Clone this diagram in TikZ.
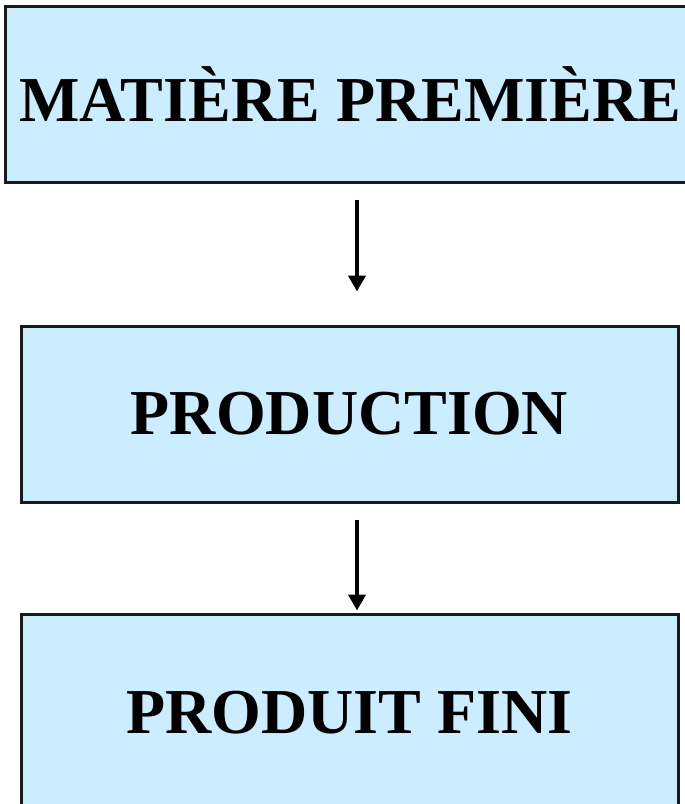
\documentclass[tikz,border=0pt]{standalone}
\usepackage{fontspec}
\setmainfont{Liberation Serif}
\usetikzlibrary{arrows.meta}
\definecolor{boxblue}{RGB}{204,236,255}
\begin{document}
\begin{tikzpicture}[x=1pt,y=1pt,
  box/.style={draw=black!90, line width=3pt, fill=boxblue, rectangle, inner sep=0pt,
    font=\fontsize{64}{70}\selectfont\bfseries},
  arr/.style={line width=4.5pt, -{Triangle[width=17pt,length=16pt]}}]
\clip (0,0) rectangle (685,-804);
\fill[white] (0,0) rectangle (685,-804);
\node[box, minimum width=690pt, minimum height=176pt] (b1) at (350,-94) {MATIÈRE PREMIÈRE};
\node[box, minimum width=657pt, minimum height=176pt] (b2) at (349.5,-414) {PRODUCTION};
\node[box, minimum width=657pt, minimum height=198pt] (b3) at (349.5,-713) {PRODUIT FINI};
\draw[arr, shorten <=16pt, shorten >=33pt] ([xshift=7.5pt]b2.north |- b1.south) -- ([xshift=7.5pt]b2.north);
\draw[arr, shorten <=16pt, shorten >=2pt] ([xshift=7.5pt]b2.south) -- ([xshift=7.5pt]b3.north);
\end{tikzpicture}
\end{document}
